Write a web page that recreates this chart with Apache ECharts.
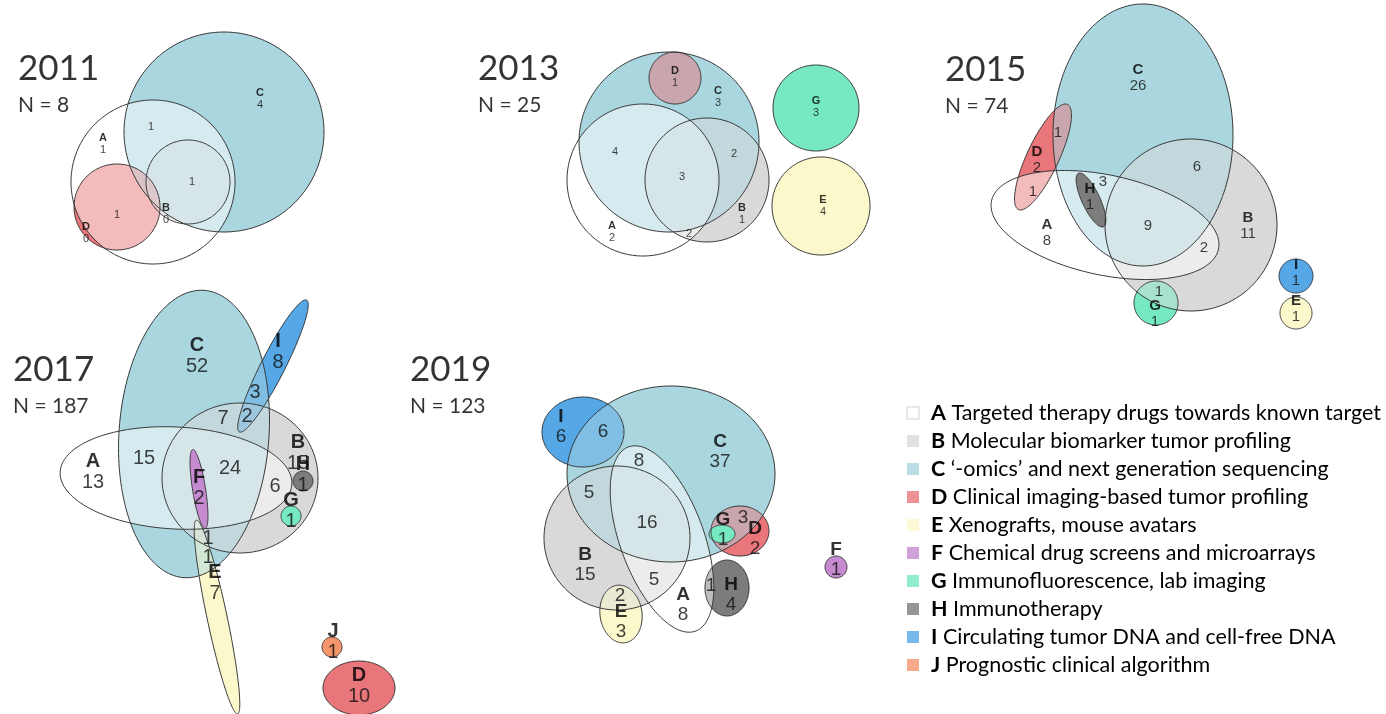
<!DOCTYPE html>
<html><head><meta charset="utf-8">
<script src="https://cdn.jsdelivr.net/npm/echarts@6/dist/echarts.min.js"></script>
<style>html,body{margin:0;padding:0;background:#fff}#c{width:1386px;height:714px}</style>
</head><body><div id="c"></div>
<script>
// ---------- data ----------
const SET_CODES = ['A','B','C','D','E','F','G','H','I','J'];
const SET_NAMES = ['Targeted therapy drugs towards known target','Molecular biomarker tumor profiling','\u2018-omics\u2019 and next generation sequencing','Clinical imaging-based tumor profiling','Xenografts, mouse avatars','Chemical drug screens and microarrays','Immunofluorescence, lab imaging','Immunotherapy','Circulating tumor DNA and cell-free DNA','Prognostic clinical algorithm'];
const YEARS  = ['2011','2013','2015','2017','2019'];
const TOTALS = [8,25,74,187,123];

const REGIONS_2011 = ['A','C','B','D','AC','ABC','AD'];
const COUNTS_2011  = [1,4,0,0,1,1,1];
const REGIONS_2013 = ['D','C','G','E','B','A','AC','BC','ABC','AB'];
const COUNTS_2013  = [1,3,3,4,1,2,4,2,3,2];
const REGIONS_2015 = ['C','D','H','A','B','G','I','E','CD','AD','AC','BC','ABC','AB','BG'];
const COUNTS_2015  = [26,2,1,8,11,1,1,1,1,1,3,6,9,2,1];
const REGIONS_2017 = ['C','I','B','H','A','F','G','E','J','D','CI','BCI','BC','AC','ABC','AB','BCE','CE'];
const COUNTS_2017  = [52,8,15,1,13,2,1,7,1,10,3,2,7,15,24,6,1,1];
const REGIONS_2019 = ['I','C','G','D','B','H','A','E','F','CI','AC','BC','ABC','CD','AB','AH','BE'];
const COUNTS_2019  = [6,37,1,2,15,4,8,3,1,6,8,5,16,3,5,1,2];

// ---------- layout (Euler diagram geometry, label anchors) ----------
// [set, cx, cy, rx, ry, rotationDeg, drawnOnTop]
const SHAPES_2011 = [['C',224,132,100,100,0,0],['D',117,207,43,43,0,0],['B',188,182,42,42,0,0],['A',153,182,82,82,0,0]];
const SHAPES_2013 = [['C',669,142,90,90,0,0],['D',675,78,26,26,0,0],['B',707,180,62,62,0,0],['G',816,108,43,43,0,0],['E',821,206,49,49,0,0],['A',643,180,76,76,0,0]];
const SHAPES_2015 = [['C',1143,135,90,131,0,0],['B',1191,225,86,86,0,0],['D',1043,157,58,16,-65,0],['G',1156,303,22,22,0,0],['I',1296,276,17,17,0,0],['E',1296,313,16,16,0,0],['A',1105,225,116,50,12,0],['H',1091,200,29.5,9,65,1]];
const SHAPES_2017 = [['I',273,366,74,12,-63,0],['C',194,434,75,144,4,0],['B',240,478,78,75,0,0],['E',217,617,99,10,78,0],['A',176,478,116,51,3,0],['F',199,489,40,6.5,81,1],['H',303,481,10,10,0,1],['G',291,516,10,10,0,1],['J',332,647,10,10,0,0],['D',359,688,36,27,0,0]];
const SHAPES_2019 = [['I',583,432,41,35,0,0],['C',671,474,104,88,0,0],['B',617,538,73,72,0,0],['D',740,531,29,25,0,0],['G',722,534,13,9,0,1],['E',621,614,21,29,-8,0],['H',727,588,22,28,0,0],['A',662,539,98,42,70,0],['F',836,567,11,11,0,0]];

const POS_2011 = [[103,143.5],[260,98.5],[166,214],[86,232.5],[151,127],[192,182],[117,215]];
const POS_2013 = [[675,77],[718,96.5],[816,106.5],[823,206],[742,213.5],[612,232],[615,152],[734,154],[682,177],[689,234]];
const POS_2015 = [[1138,78],[1037,160],[1090,197],[1047,232.5],[1248,225.5],[1155,313.5],[1296,272.5],[1296,308.5],[1058,133],[1033,192],[1103,182],[1197,167],[1148,226],[1204,248],[1159,292]];
const POS_2017 = [[197,355.5],[278,351.5],[298,453],[303,475],[93,471.5],[199,487.5],[291,511],[215,582.5],[333,642],[359,685.5],[255,392],[247,416],[223,418],[144,458],[230,468],[275,486],[208,538],[208,557]];
const POS_2019 = [[561,427],[720,452],[723,530],[755,539],[585,564.5],[731,595],[683,605],[621,622],[836,560],[603,432],[639,461],[589,493],[647,523],[743,518],[654,580],[711,586],[620,596]];
const TITLE_POS = [[18,68],[478,68],[945,69],[13,369],[410,369]];
const LABEL_FONT = [11,11,15,20,19];

// ---------- styles ----------
const SOLID = {A:'#ffffff',B:'#d9d9d9',C:'#aad6df',D:'#e8767a',E:'#fbf8cb',F:'#c58ad0',G:'#76e9c1',H:'#7c7c7c',I:'#55a7e6',J:'#f4956c'};
const RGB = {};
Object.keys(SOLID).forEach(k => { RGB[k] = [1,3,5].map(i => parseInt(SOLID[k].substr(i,2),16)); });

const allShapes = [SHAPES_2011,SHAPES_2013,SHAPES_2015,SHAPES_2017,SHAPES_2019];
const allRegions = [REGIONS_2011,REGIONS_2013,REGIONS_2015,REGIONS_2017,REGIONS_2019];
const allCounts = [COUNTS_2011,COUNTS_2013,COUNTS_2015,COUNTS_2017,COUNTS_2019];
const allPos = [POS_2011,POS_2013,POS_2015,POS_2017,POS_2019];

// horizontal extent of a rotated ellipse at height y (data units)
function spanAt(s, y){
  const cx=s[1], cy=s[2], a=s[3], b=s[4], r=s[5]*Math.PI/180;
  const c=Math.cos(r), sn=Math.sin(r), dy=y-cy;
  const A=c*c/(a*a)+sn*sn/(b*b);
  const B=2*dy*c*sn*(1/(a*a)-1/(b*b));
  const C=dy*dy*(sn*sn/(a*a)+c*c/(b*b))-1;
  const d=B*B-4*A*C;
  if (d<0) return null;
  const q=Math.sqrt(d);
  return [cx+(-B-q)/(2*A), cx+(-B+q)/(2*A)];
}

// one data row per pixel line of each panel (fills mixed from the sets present)
const rowData = [];
allShapes.forEach((list, p) => {
  let lo=Infinity, hi=-Infinity;
  list.forEach(s => { const e=Math.max(s[3],s[4]); lo=Math.min(lo,s[2]-e); hi=Math.max(hi,s[2]+e); });
  for (let y=Math.floor(lo); y<Math.ceil(hi); y++) rowData.push([0,y,p]);
});

function renderRow(params, api){
  const y=api.value(1), p=api.value(2), list=allShapes[p];
  const yc=y+0.5;
  const spans=list.map(s => spanAt(s,yc));
  const cuts=[];
  spans.forEach(sp => { if (sp) { cuts.push(sp[0], sp[1]); } });
  if (!cuts.length) return null;
  cuts.sort((u,v)=>u-v);
  const py=Math.round(api.coord([0,y])[1]);
  const kids=[];
  for (let k=0;k<cuts.length-1;k++){
    const x0=cuts[k], x1=cuts[k+1], xm=(x0+x1)/2;
    const members=[]; let top=null;
    spans.forEach((sp,i) => { if (sp && xm>=sp[0] && xm<=sp[1]) { members.push(list[i][0]); if (list[i][6]) top=list[i][0]; } });
    if (!members.length) continue;
    let col;
    if (top) col=RGB[top];
    else { col=[0,0,0]; members.forEach(m => { for (let j=0;j<3;j++) col[j]+=RGB[m][j]; }); col=col.map(v=>Math.round(v/members.length)); }
    const px0=Math.round(api.coord([x0,y])[0]), px1=Math.round(api.coord([x1,y])[0]);
    if (px1<=px0) continue;
    kids.push({type:'rect', shape:{x:px0,y:py,width:px1-px0,height:1}, style:{fill:'rgb('+col.join(',')+')'}});
  }
  return {type:'group', children:kids};
}

const outlineData = [];
allShapes.forEach(list => list.forEach(s => outlineData.push([s[1],s[2],s[3],s[4],s[5]])));

function renderOutline(params, api){
  const cx=api.value(0), cy=api.value(1), rx=api.value(2), ry=api.value(3);
  const rot=api.value(4)*Math.PI/180;
  const pts=[];
  for(let k=0;k<180;k++){
    const t=2*Math.PI*k/180, ex=rx*Math.cos(t), ey=ry*Math.sin(t);
    pts.push(api.coord([cx+ex*Math.cos(rot)-ey*Math.sin(rot), cy+ex*Math.sin(rot)+ey*Math.cos(rot)]));
  }
  return {type:'polygon', shape:{points:pts}, style:{fill:'none', stroke:'#383838', lineWidth:1}};
}

const series = [
  {type:'custom', name:'fills', renderItem:renderRow, data:rowData, clip:false, silent:true, z:1, encode:{x:0,y:1}},
  {type:'custom', name:'outlines', renderItem:renderOutline, data:outlineData, clip:false, silent:true, z:2, encode:{x:0,y:1}}
];

allRegions.forEach((regs, yi) => {
  const fs = LABEL_FONT[yi];
  const data = regs.map((r, i) => ({
    value: allPos[yi][i],
    txt: r.length === 1 ? '{l|' + r + '}\n{n|' + allCounts[yi][i] + '}' : '{n|' + allCounts[yi][i] + '}'
  }));
  series.push({
    type:'scatter', symbolSize:0, silent:true, z:5, data:data,
    itemStyle:{color:'transparent'},
    label:{show:true, position:'inside', align:'center', verticalAlign:'middle',
      formatter: p => p.data.txt,
      rich:{
        l:{fontFamily:'Liberation Sans', fontWeight:'bold', fontSize:fs, lineHeight:fs+1, color:'#000', align:'center'},
        n:{fontFamily:'Liberation Sans', fontSize:fs, lineHeight:fs+1, color:'#111', align:'center'}
      }}
  });
});

// titles
series.push({
  type:'scatter', symbolSize:0, silent:true, z:5, itemStyle:{color:'transparent'},
  data: YEARS.map((y,i) => ({value:TITLE_POS[i], txt:'{y|' + y + '}\n{n|N = ' + TOTALS[i] + '}'})),
  label:{show:true, position:'inside', align:'left', verticalAlign:'top', offset:[0,-21],
    formatter: p => p.data.txt,
    rich:{
      y:{fontFamily:'Lato', fontSize:35, lineHeight:43, color:'#000'},
      n:{fontFamily:'Lato', fontSize:21, lineHeight:30, color:'#000'}
    }}
});

// legend proxies
SET_CODES.forEach(c => series.push({
  type:'scatter', name:c, data:[],
  itemStyle: c === 'A' ? {color:'#ffffff', borderColor:'#e2e2e2', borderWidth:1} : {color:SOLID[c]}
}));

const chart = echarts.init(document.getElementById('c'), null, {renderer:'canvas'});
chart.setOption({
  animation:false,
  backgroundColor:'#ffffff',
  grid:{left:0,right:0,top:0,bottom:0},
  xAxis:{type:'value', min:0, max:1386, show:false},
  yAxis:{type:'value', min:0, max:714, inverse:true, show:false},
  legend:{
    orient:'vertical', left:906, top:402, itemWidth:12, itemHeight:12, itemGap:6, icon:'rect',
    selectedMode:false, data:SET_CODES, padding:0,
    formatter: name => '{b|' + name + '}{t| ' + SET_NAMES[SET_CODES.indexOf(name)] + '}',
    textStyle:{fontFamily:'Lato', fontSize:21.5, color:'#000', lineHeight:20,
      rich:{
        b:{fontFamily:'Lato', fontWeight:'bold', fontSize:21.5, lineHeight:20, color:'#000', padding:[0,0,0,7]},
        t:{fontFamily:'Lato', fontSize:21.5, lineHeight:20, color:'#000'}
      }}
  },
  series: series
});
</script></body></html>
